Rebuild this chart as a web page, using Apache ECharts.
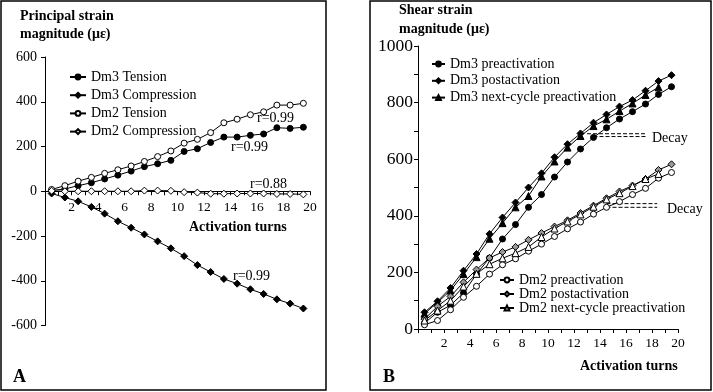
<!DOCTYPE html>
<html>
<head>
<meta charset="utf-8">
<script src="https://cdn.jsdelivr.net/npm/echarts/dist/echarts.min.js"></script>
<style>html,body{margin:0;padding:0;background:#fff}#c{width:713px;height:392px}</style>
</head>
<body>
<div id="c"></div>
<script>
// ---- Data ----
var turnsA = [0.5,1.5,2.5,3.5,4.5,5.5,6.5,7.5,8.5,9.5,10.5,11.5,12.5,13.5,14.5,15.5,16.5,17.5,18.5,19.5];
var dm3Tension = [4,10,25,38,55,72,90,110,123,138,178,190,218,242,242,250,256,284,281,286];
var dm3Compression = [-10,-28,-45,-70,-100,-134,-163,-193,-224,-255,-290,-330,-361,-392,-413,-438,-459,-483,-502,-524];
var dm2Tension = [8,25,45,62,80,96,113,133,155,180,215,232,262,306,322,342,355,385,385,393];
var dm2Compression = [2,0,0,0,0,0,0,3,3,2,-4,-6,-11,-11,-10,-10,-10,-12,-12,-14];

var turnsB = [0.5,1.5,2.5,3.5,4.5,5.5,6.5,7.5,8.5,9.5,10.5,11.5,12.5,13.5,14.5,15.5,16.5,17.5,18.5,19.5];
var dm3Pre = [21,59,84,127,194,251,318,369,430,475,537,590,636,677,711,742,768,795,829,856];
var dm3Post = [59,98,145,206,265,336,394,447,500,550,607,653,691,729,758,786,809,842,876,897];
var dm3Next = [54,94,136,194,254,319,374,430,470,539,592,641,682,717,741,770,797,827,854];
var dm2Pre = [15,30,68,112,151,194,227,248,275,300,327,354,378,406,430,450,475,497,533,553];
var dm2Post = [35,80,115,165,210,251,272,290,315,339,362,384,410,436,462,486,507,530,562,582];
var dm2Next = [30,65,100,150,195,229,250,268,290,325,355,380,405,432,458,480,505,530,548];

var decayDm3Upper = [[13.0,690],[17.5,690]];
var decayDm3Lower = [[13.5,680],[17.5,680]];
var decayDm2Upper = [[14.5,443],[18.4,443]];
var decayDm2Lower = [[14.5,430],[18.4,430]];

var xTicks = [2,4,6,8,10,12,14,16,18,20];

// ---- Helpers ----
function pairs(xs, ys){ return ys.map(function(v,i){ return [xs[i], v]; }); }
var FONT = '"Liberation Serif","DejaVu Serif",serif';

function lineSeries(name, xi, yi, xs, ys, symbol, size, fill){
  return {
    name: name, type: 'line', xAxisIndex: xi, yAxisIndex: yi,
    data: pairs(xs, ys), symbol: symbol, symbolSize: size, showSymbol: true,
    lineStyle: {color: '#000', width: 1},
    itemStyle: {color: fill, borderColor: '#000', borderWidth: 1, opacity: 1},
    emphasis: {disabled: true}, z: 3
  };
}
function dashSeries(xi, yi, d){
  return {type:'line', xAxisIndex: xi, yAxisIndex: yi, data: d, symbol:'none',
    lineStyle:{color:'#000', width:1, type:[4,2]}, emphasis:{disabled:true}, silent:true, z:2};
}

var series = [
  lineSeries('Dm3 Tension',0,0,turnsA,dm3Tension,'circle',6,'#000'),
  lineSeries('Dm3 Compression',0,0,turnsA,dm3Compression,'diamond',7,'#000'),
  lineSeries('Dm2 Tension',0,0,turnsA,dm2Tension,'circle',6,'#fff'),
  lineSeries('Dm2 Compression',0,0,turnsA,dm2Compression,'diamond',7,'#fff'),
  lineSeries('Dm3 preactivation',1,1,turnsB,dm3Pre,'circle',6,'#000'),
  lineSeries('Dm3 postactivation',1,1,turnsB,dm3Post,'diamond',7,'#000'),
  lineSeries('Dm3 next-cycle preactivation',1,1,turnsB,dm3Next,'triangle',7,'#000'),
  lineSeries('Dm2 preactivation',1,1,turnsB,dm2Pre,'circle',6,'#fff'),
  lineSeries('Dm2 postactivation',1,1,turnsB,dm2Post,'diamond',7,'#999'),
  lineSeries('Dm2 next-cycle preactivation',1,1,turnsB,dm2Next,'triangle',7,'#fff'),
  dashSeries(1,1,decayDm3Upper), dashSeries(1,1,decayDm3Lower),
  dashSeries(1,1,decayDm2Upper), dashSeries(1,1,decayDm2Lower)
];

function xAxisCfg(gi, fontSize, margin, offset){
  return {type:'value', gridIndex: gi, min:0, max:20, interval:2, position:'bottom', offset: offset,
    axisLine:{show:true, onZero:false, lineStyle:{color:'#000', width:1}},
    axisTick:{show:true, length:4, lineStyle:{color:'#000'}},
    minorTick:{show:true, splitNumber:2, length:4, lineStyle:{color:'#000'}},
    splitLine:{show:false},
    axisLabel:{fontFamily:FONT, fontSize:fontSize, color:'#000', margin: margin,
      formatter:function(v){ return xTicks.indexOf(v) >= 0 ? String(v) : ''; }}
  };
}

function txt(x, y, s, size, bold, align){
  return {type:'text', x:x, y:y, style:{text:s, fill:'#000', font:(bold?'bold ':'')+size+'px '+FONT,
    textAlign: align||'left', textVerticalAlign:'middle'}, z:10};
}

var legendText = {fontFamily:FONT, fontSize:14, color:'#000', lineHeight:14};

var option = {
  animation:false,
  backgroundColor:'#fff',
  grid:[
    {left:45, top:57, width:265, height:268.5},
    {left:418, top:46, width:260, height:283}
  ],
  xAxis:[ xAxisCfg(0, 13.5, 9, -134.25), xAxisCfg(1, 13.5, 7, 0) ],
  yAxis:[
    {type:'value', gridIndex:0, min:-600, max:600, interval:200,
      axisLine:{show:true, onZero:false, lineStyle:{color:'#000'}},
      axisTick:{show:true, length:4, lineStyle:{color:'#000'}},
      splitLine:{show:false},
      axisLabel:{fontFamily:FONT, fontSize:14, color:'#000', margin:8}},
    {type:'value', gridIndex:1, min:0, max:1000, interval:200,
      axisLine:{show:true, onZero:false, lineStyle:{color:'#000'}},
      axisTick:{show:true, length:4, lineStyle:{color:'#000'}},
      minorTick:{show:true, splitNumber:2, length:4, lineStyle:{color:'#000'}},
      splitLine:{show:false},
      axisLabel:{fontFamily:FONT, fontSize:17.5, color:'#000', margin:5,
        formatter:function(v){ return String(v); }}}
  ],
  legend:[
    {data:['Dm3 Tension','Dm3 Compression','Dm2 Tension','Dm2 Compression'],
      orient:'vertical', left:64, top:65, itemWidth:16, itemHeight:6, itemGap:4.2,
      textStyle:legendText, selectedMode:false},
    {data:['Dm3 preactivation','Dm3 postactivation','Dm3 next-cycle preactivation'],
      orient:'vertical', left:426, top:52, itemWidth:13, itemHeight:6, itemGap:2.8,
      textStyle:legendText, selectedMode:false},
    {data:['Dm2 preactivation','Dm2 postactivation','Dm2 next-cycle preactivation'],
      orient:'vertical', left:494, top:268, itemWidth:14, itemHeight:6, itemGap:0,
      textStyle:legendText, selectedMode:false}
  ],
  series: series,
  graphic:[
    {type:'rect', shape:{x:1, y:1, width:325, height:389}, style:{fill:'none', stroke:'#000', lineWidth:1.5}, z:0},
    {type:'rect', shape:{x:370, y:1, width:341, height:389}, style:{fill:'none', stroke:'#000', lineWidth:1.5}, z:0},
    txt(20, 16, 'Principal strain', 14, true),
    txt(20, 34, 'magnitude (\u03bc\u03b5)', 14, true),
    txt(399, 10, 'Shear strain', 14, true),
    txt(399, 29, 'magnitude (\u03bc\u03b5)', 14, true),
    txt(189, 227, 'Activation turns', 14, true),
    txt(580, 366, 'Activation turns', 14, true),
    txt(13, 377, 'A', 18, true),
    txt(383, 377, 'B', 18, true),
    txt(257, 118, 'r=0.99', 14, false),
    txt(231, 147, 'r=0.99', 14, false),
    txt(250, 184, 'r=0.88', 14, false),
    txt(233, 276, 'r=0.99', 14, false),
    txt(652, 138, 'Decay', 14, false),
    txt(667, 209, 'Decay', 14, false)
  ]
};

var chart = echarts.init(document.getElementById('c'), null, {renderer:'canvas'});
chart.setOption(option);
</script>
</body>
</html>
